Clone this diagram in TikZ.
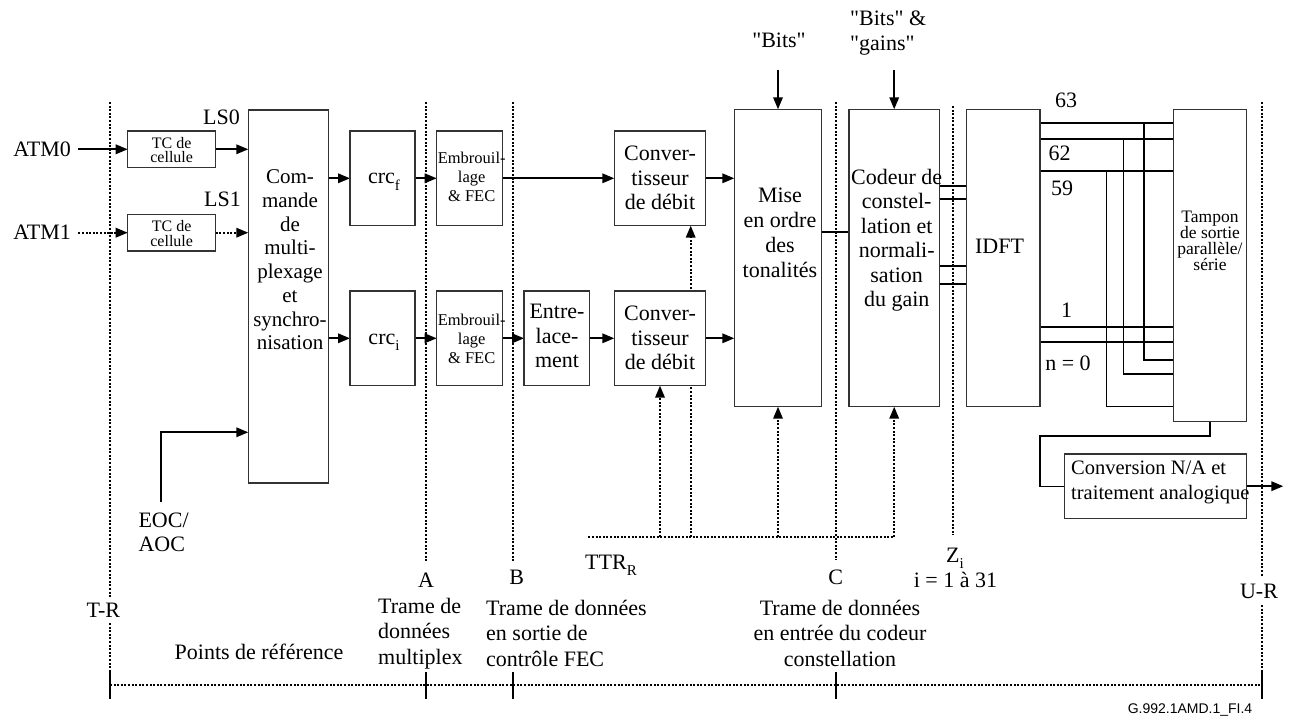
\documentclass[tikz,border=0pt]{standalone}
\usepackage{fontspec}
\setmainfont{Liberation Serif}[Ligatures=TeXOff]
\newfontfamily\arialfam{Liberation Sans}
\usetikzlibrary{arrows.meta}
\pgfdeclarelayer{back}
\pgfdeclarelayer{bg}
\pgfsetlayers{back,bg,main}
\newcommand{\fsz}[2]{\fontsize{#1}{#2}\selectfont}
\newcommand{\subs}[1]{\raisebox{-0.3em}{\fontsize{15}{15}\selectfont #1}}
\begin{document}
\begin{tikzpicture}[x=1pt,y=-1pt,
 blk/.style={draw=black!80, line width=1.3pt, fill=white, inner sep=0pt, outer sep=0pt},
 txt/.style={inner sep=0pt, align=center, font=\fsz{22}{24.5}},
 smalltxt/.style={inner sep=0pt, align=center, font=\fsz{16.5}{18.7}},
 conn/.style={line width=1.8pt},
 thinln/.style={line width=1.2pt},
 arr/.style={conn, -{Triangle[length=12pt,width=9.5pt]}},
 dotln/.style={line width=1.8pt, dash pattern=on 2pt off 1.6pt},
 darr/.style={dotln, -{Triangle[length=12pt,width=9.5pt]}},
 reftick/.style={line width=2pt},
]
\begin{pgfonlayer}{back}
\fill[white] (0,0) rectangle (1290,719);
\end{pgfonlayer}
\useasboundingbox (0,0) rectangle (1290,719);

% ---------- boxes ----------
\node[blk, minimum width=88pt, minimum height=36.7pt] (tc0) at (171.7,149.3) {};
\node[blk, minimum width=88pt, minimum height=36.7pt] (tc1) at (171.7,232.7) {};
\node[blk, minimum width=80pt, minimum height=373pt] (cmd) at (288.3,296.5) {};
\node[blk, minimum width=65pt, minimum height=94.7pt] (crcf) at (382.5,178.3) {};
\node[blk, minimum width=65pt, minimum height=94.7pt] (crci) at (382.5,338.3) {};
\node[blk, minimum width=65.6pt, minimum height=94.7pt] (emb0) at (469.5,178.3) {};
\node[blk, minimum width=65.6pt, minimum height=94.7pt] (emb1) at (469.5,338.3) {};
\node[blk, minimum width=65.3pt, minimum height=94.7pt] (entr) at (556.7,338.3) {};
\node[blk, minimum width=91.4pt, minimum height=94.7pt] (conv0) at (660,178.3) {};
\node[blk, minimum width=91.4pt, minimum height=94.7pt] (conv1) at (660,338.3) {};
\node[blk, minimum width=87.4pt, minimum height=297.4pt] (mise) at (778,258) {};
\node[blk, minimum width=90.3pt, minimum height=297.4pt] (cod) at (894.2,258) {};
\node[blk, minimum width=73.3pt, minimum height=297.4pt] (idft) at (1003.3,258) {};
\node[blk, minimum width=73.4pt, minimum height=312.4pt] (tamp) at (1210,265.5) {};
\node[blk, minimum width=182.4pt, minimum height=64.3pt] (cna) at (1155.5,486.2) {};

% ---------- texts in boxes ----------
\node[inner sep=0pt, align=center, font=\fsz{16}{14.7}] (tc0t) at (171.7,150) {TC de\\cellule};
\node[inner sep=0pt, align=center, font=\fsz{16}{14.7}] (tc1t) at (171.7,233.4) {TC de\\cellule};
\node[txt, font=\fsz{21}{23.7}] (cmdt) at (290,260) {Com-\\mande\\de\\multi-\\plexage\\et\\synchro-\\nisation};
\node[txt, anchor=base] (crcft) at (384,184) {crc\subs{f}};
\node[txt, anchor=base] (crcit) at (384,344) {crc\subs{i}};
\node[smalltxt] (emb0t) at (471.7,176.7) {Embrouil-\\lage\\\& FEC};
\node[smalltxt] (emb1t) at (471.7,338.8) {Embrouil-\\lage\\\& FEC};
\node[txt] (entrt) at (557,336) {Entre-\\lace-\\ment};
\node[txt, font=\fsz{22}{24.7}] (conv0t) at (660,178) {Conver-\\tisseur\\de débit};
\node[txt, font=\fsz{22}{24.7}] (conv1t) at (660,338) {Conver-\\tisseur\\de débit};
\node[txt, font=\fsz{22}{25}] (miset) at (780,233) {Mise\\en ordre\\des\\tonalités};
\node[txt] (codt) at (896.7,240.3) {Codeur de\\constel-\\lation et\\normali-\\sation\\du gain};
\node[txt] (idftt) at (999.5,246) {IDFT};
\node[inner sep=0pt, align=center, font=\fsz{17.5}{16.2}] (tampt) at (1210,241) {Tampon\\de sortie\\parallèle/\\série};
\node[inner sep=0pt, align=left, anchor=west, font=\fsz{20.5}{25}] (cnat) at (1071,482) {Conversion N/A et\\traitement analogique};

% ---------- outside labels ----------
\node[txt, anchor=east] (atm0) at (71,149.3) {ATM0};
\node[txt, anchor=east] (atm1) at (71,232.7) {ATM1};
\node[txt] (ls0) at (221.5,117) {LS0};
\node[txt] (ls1) at (222.5,199.3) {LS1};
\node[txt, align=left, anchor=west] (eoc) at (138.3,532.5) {EOC/\\AOC};
\node[txt] (bits) at (779,40) {"Bits"};
\node[txt, align=left, anchor=west] (bitsg) at (850,33) {"Bits" \&\\"gains"};
\node[txt] (l63) at (1066,100) {63};
\node[txt] (l62) at (1059.5,153.3) {62};
\node[txt] (l59) at (1062,188.3) {59};
\node[txt] (l1) at (1066.7,310) {1};
\node[txt] (l0) at (1068,363.3) {n = 0};
\node[txt, anchor=base west] (ttr) at (585,569) {TTR\subs{R}};
\node[txt] (lA) at (426,580) {A};
\node[txt] (lB) at (516.7,577) {B};
\node[txt] (lC) at (835.7,577) {C};
\node[txt, anchor=base west] (lZ) at (946,562.3) {Z\subs{i}};
\node[txt] (lZi) at (955.5,580) {i = 1 à 31};
\node[txt] (lTR) at (103.3,610) {T-R};
\node[txt] (lUR) at (1259,591.7) {U-R};
\node[txt] (pref) at (259,652) {Points de référence};
\node[txt, font=\fsz{22}{25.5}, align=left, anchor=west] (tA) at (378,633.5) {Trame de\\données\\multiplex};
\node[txt, font=\fsz{22}{25.5}, align=left, anchor=west] (tB) at (486,633) {Trame de données\\en sortie de\\contrôle FEC};
\node[txt, font=\fsz{22}{25.5}] (tC) at (840,633) {Trame de données\\en entrée du codeur\\constellation};
\node[inner sep=0pt, font=\arialfam\fsz{14}{16}] (fig) at (1190,710) {G.992.1AMD.1\_FI.4};

% ---------- helper coordinates ----------
\coordinate (yEOC) at (0,432.3);
\coordinate (yMC) at (0,232.3);
\coordinate (yC1) at (0,185.7);
\coordinate (yC2) at (0,199.3);
\coordinate (yC3) at (0,265.7);
\coordinate (yC4) at (0,283.7);
\coordinate (y63) at (0,123.3);
\coordinate (y62) at (0,139);
\coordinate (y59) at (0,171);
\coordinate (y1) at (0,326.7);
\coordinate (y0) at (0,341.7);
\coordinate (yT1) at (0,360);
\coordinate (yT2) at (0,374);
\coordinate (yT3) at (0,406.7);
\coordinate (atm0s) at (78.3,149.3);
\coordinate (atm1s) at (78.3,232.7);
\coordinate (eocs) at (161,502);
\coordinate (bitss) at (778,70);
\coordinate (bitsgs) at (894.2,70);
\coordinate (ttrL) at (588.3,537);
\coordinate (ttrR) at (894.2,537);
\coordinate (x690) at (690.7,537);
\coordinate (v63) at (1144,123.3);
\coordinate (v62) at (1123.3,139);
\coordinate (v59) at (1106.7,171);
\coordinate (bufc) at (1040,436);
\coordinate (oute) at (1283.3,486.2);

% ---------- connectors ----------
\begin{pgfonlayer}{bg}
\draw[arr] (atm0s) -- (tc0.west);
\draw[darr] (atm1s) -- (tc1.west);
\draw[arr] (tc0.east) -- (tc0.east -| cmd.west);
\draw[darr] (tc1.east) -- (tc1.east -| cmd.west);
\draw[arr] (eocs) |- (cmd.west |- yEOC);
\draw[arr] (crcf.west -| cmd.east) -- (crcf.west);
\draw[arr] (crci.west -| cmd.east) -- (crci.west);
\draw[arr] (crcf.east) -- (emb0.west);
\draw[arr] (crci.east) -- (emb1.west);
\draw[arr] (emb0.east) -- (conv0.west);
\draw[arr] (emb1.east) -- (entr.west);
\draw[arr] (entr.east) -- (conv1.west);
\draw[arr] (conv0.east) -- (conv0.east -| mise.west);
\draw[arr] (conv1.east) -- (conv1.east -| mise.west);
\draw[conn] (mise.east |- yMC) -- (cod.west |- yMC);
\foreach \yy in {yC1,yC2,yC3,yC4}
  \draw[conn] (cod.east |- \yy) -- (idft.west |- \yy);
\draw[arr] (bitss) -- (mise.north);
\draw[arr] (bitsgs) -- (cod.north);
% TTR
\draw[dotln] (ttrL) -- (ttrR);
\draw[darr] (conv1.south |- ttrL) -- (conv1.south);
\draw[darr] (x690) -- (x690 |- conv0.south);
\draw[darr] (mise.south |- ttrL) -- (mise.south);
\draw[darr] (ttrR) -- (cod.south);
% IDFT -> buffer
\foreach \yy in {y63,y62,y59,y1,y0}
  \draw[conn] (idft.east |- \yy) -- (tamp.west |- \yy);
\draw[thinln] (v63) |- (tamp.west |- yT1);
\draw[thinln] (v62) |- (tamp.west |- yT2);
\draw[thinln] (v59) |- (tamp.west |- yT3);
\draw[thinln] (tamp.south) |- (bufc) |- (cna.west);
\draw[arr] (cna.east) -- (oute);
% reference lines
\draw[dotln] (110,102) -- (110,596.7);
\draw[dotln] (110,623) -- (110,672);
\draw[dotln] (426,102) -- (426,561.7);
\draw[dotln] (512.7,102) -- (512.7,561.7);
\draw[dotln] (835.7,102) -- (835.7,560);
\draw[dotln] (952.7,106) -- (952.7,535);
\draw[dotln] (1262,102) -- (1262,576.7);
\draw[dotln] (1262,605) -- (1262,672);
\draw[dotln] (110,685) -- (1262,685);
\foreach \xx in {110,426,512.7,835.7,1262}
  \draw[reftick] (\xx,672) -- (\xx,699);
\end{pgfonlayer}
\end{tikzpicture}
\end{document}
